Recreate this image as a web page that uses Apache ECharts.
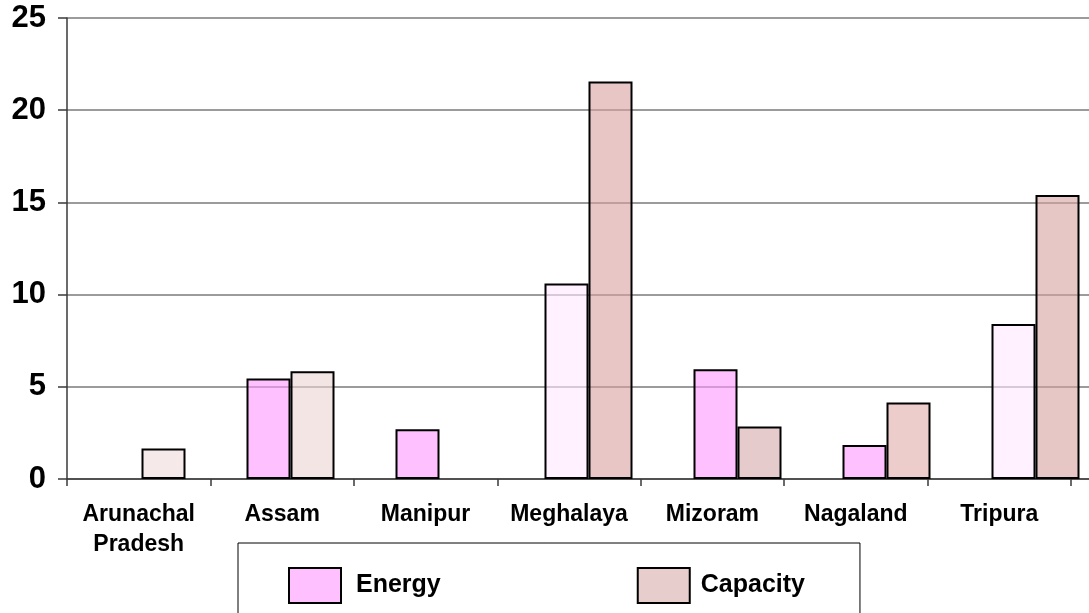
<!DOCTYPE html>
<html>
<head>
<meta charset="utf-8">
<script src="https://cdn.jsdelivr.net/npm/echarts@6/dist/echarts.min.js"></script>
<style>
html,body{margin:0;padding:0;background:#fff;}
#chart{width:1089px;height:613px;}
</style>
</head>
<body>
<div id="chart"></div>
<script>
var categories = ['Arunachal\nPradesh', 'Assam', 'Manipur', 'Meghalaya', 'Mizoram', 'Nagaland', 'Tripura'];
var energyValues = [null, 5.45, 2.7, 10.6, 5.95, 1.85, 8.4];
var capacityValues = [1.65, 5.85, null, 21.55, 2.85, 4.15, 15.4];
var energyColors = ['rgba(255,150,255,0.6)', 'rgba(255,150,255,0.6)', 'rgba(255,150,255,0.6)', 'rgba(255,232,255,0.6)', 'rgba(255,150,255,0.6)', 'rgba(255,150,255,0.6)', 'rgba(255,232,255,0.6)'];
var capacityColors = ['rgba(240,218,218,0.6)', 'rgba(236,212,212,0.6)', 'rgba(240,218,218,0.6)', 'rgba(218,160,160,0.6)', 'rgba(212,168,168,0.6)', 'rgba(225,170,170,0.6)', 'rgba(215,160,160,0.6)'];
var yTicks = [0, 5, 10, 15, 20, 25];

var FONT = '"Liberation Sans", Arial, sans-serif';
var chart = echarts.init(document.getElementById('chart'), null, {renderer: 'canvas'});

function items(vals, cols) {
  return vals.map(function (v, i) {
    return v === null ? '-' : {value: v, itemStyle: {color: cols[i]}};
  });
}

chart.setOption({
  animation: false,
  backgroundColor: '#ffffff',
  grid: [
    {left: 67, width: 1043, top: 18, bottom: 134, containLabel: false, outerBoundsMode: 'none'},
    {left: 67, right: 18, top: 18, bottom: 134, containLabel: false, outerBoundsMode: 'none'}
  ],
  xAxis: [
    {
      type: 'category', gridIndex: 0, data: categories,
      axisLine: {show: true, lineStyle: {color: '#3a3a3a', width: 1.5}},
      axisTick: {show: false}, axisLabel: {show: false}, splitLine: {show: false}
    },
    {
      type: 'category', gridIndex: 1, data: categories,
      axisLine: {show: false},
      axisTick: {show: true, length: 7, lineStyle: {color: '#3a3a3a', width: 1.5}},
      axisLabel: {show: true, interval: 0, margin: 21, fontFamily: FONT, fontWeight: 'bold', fontSize: 23, lineHeight: 30, color: '#000'},
      splitLine: {show: false}
    }
  ],
  yAxis: [
    {
      type: 'value', gridIndex: 0, min: yTicks[0], max: yTicks[yTicks.length - 1], interval: 5,
      axisLine: {show: true, lineStyle: {color: '#3a3a3a', width: 1.5}},
      axisTick: {show: true, inside: false, length: 9, lineStyle: {color: '#3a3a3a', width: 1.5}},
      axisLabel: {margin: 21, fontFamily: FONT, fontWeight: 'bold', fontSize: 31, color: '#000'},
      splitLine: {show: true, lineStyle: {color: '#7a7a7a', width: 1.5}}
    },
    {
      type: 'value', gridIndex: 1, min: 0, max: 25, interval: 5, show: false
    }
  ],
  legend: {
    show: true,
    left: 238, top: 543,
    orient: 'horizontal',
    padding: [24, 55, 40, 50],
    borderColor: '#000', borderWidth: 1,
    itemWidth: 52, itemHeight: 35, itemGap: 196,
    icon: 'rect',
    selectedMode: false,
    textStyle: {fontFamily: FONT, fontWeight: 'bold', fontSize: 25, color: '#000', padding: [0, 0, 4, 10]},
    data: [
      {name: 'Energy', itemStyle: {color: '#FFC0FF', borderColor: '#000', borderWidth: 2}},
      {name: 'Capacity', itemStyle: {color: '#E8CDCD', borderColor: '#000', borderWidth: 2}, textStyle: {padding: [0, 0, 8, 6]}}
    ]
  },
  series: [
    {
      name: 'Energy', type: 'bar', xAxisIndex: 0, yAxisIndex: 0,
      barWidth: 44, barGap: '0%',
      itemStyle: {color: '#FFC0FF', borderColor: '#000', borderWidth: 2},
      data: items(energyValues, energyColors)
    },
    {
      name: 'Capacity', type: 'bar', xAxisIndex: 0, yAxisIndex: 0,
      barWidth: 44, barGap: '0%',
      itemStyle: {color: '#E8CDCD', borderColor: '#000', borderWidth: 2},
      data: items(capacityValues, capacityColors)
    }
  ]
});
</script>
</body>
</html>
